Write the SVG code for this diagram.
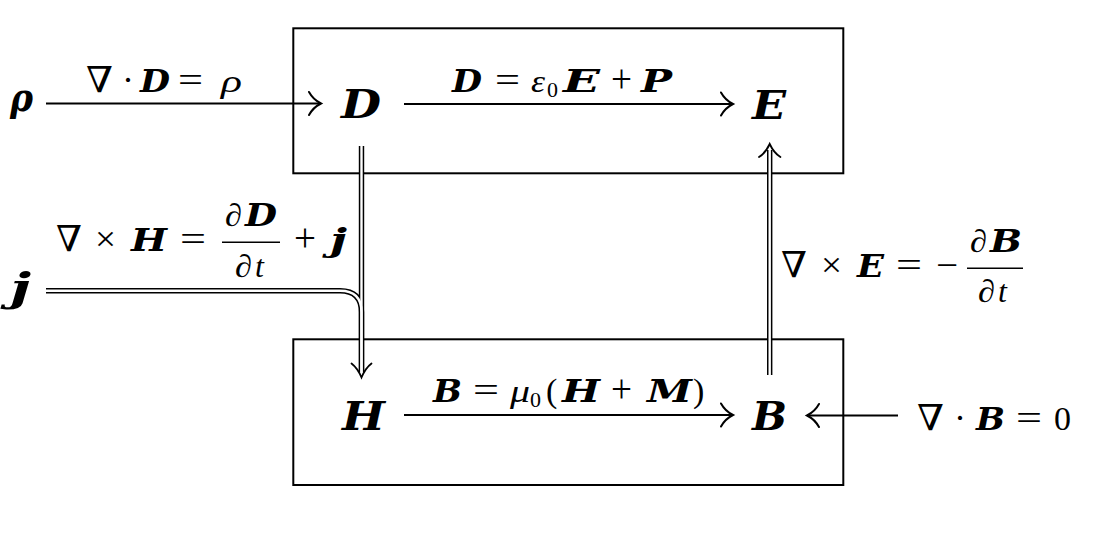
<svg xmlns="http://www.w3.org/2000/svg" width="1100" height="550" viewBox="0 0 1100 550">
<style>
  text { font-family: "Liberation Serif", "DejaVu Serif", serif; font-size: 32px; fill: #000; }
  .i { font-style: italic; }
  .b { font-family: "DejaVu Serif", "Liberation Serif", serif; font-weight: bold; font-style: italic; font-size: 31px; }
  .op { font-size: 36px; }
  .plus { font-size: 40px; }
  .num { font-size: 34px; }
  .node { font-size: 40px; }
  .sub { font-size: 22px; }
  .box { fill: none; stroke: #000; stroke-width: 2; }
  .arrow { fill: none; stroke: #000; stroke-width: 2; }
  .dbl-out { fill: none; stroke: #000; stroke-width: 5.4; }
  .dbl-in { fill: none; stroke: #fff; stroke-width: 2.4; }
  .dhead { fill: none; stroke: #000; stroke-width: 1.8; stroke-linecap: round; }
  .bar { stroke: #000; stroke-width: 1.6; }
</style>
<defs>
  <marker id="to" markerUnits="userSpaceOnUse" markerWidth="20" markerHeight="30" viewBox="-16 -15 20 30" refX="0" refY="0" orient="auto" overflow="visible">
    <path d="M-12,-11.5 C-9,-6 -4,-2 0,0 C-4,2 -9,6 -12,11.5" fill="none" stroke="#000" stroke-width="2" stroke-linecap="round"/>
  </marker>
</defs>
<rect width="1100" height="550" fill="#fff"/>

<g id="box-top"><rect class="box" x="293.3" y="28.3" width="550" height="145"/></g>
<g id="box-bottom"><rect class="box" x="293.3" y="339.3" width="550" height="145.7"/></g>

<g id="connectors">
  <path class="arrow" d="M46 103.5 H321" marker-end="url(#to)"/>
  <path class="arrow" d="M404 104 H733" marker-end="url(#to)"/>
  <path class="arrow" d="M404 415 H733" marker-end="url(#to)"/>
  <path class="arrow" d="M898 415.5 H807" marker-end="url(#to)"/>
  <path class="dbl-out" d="M46 290.7 H340 Q361.5 290.7 361.5 312 V372"/>
  <path class="dbl-out" d="M361.5 146 V372"/>
  <path class="dbl-out" d="M769.7 375 V150"/>
  <path class="dbl-in" d="M46 290.7 H340 Q361.5 290.7 361.5 312 V372"/>
  <path class="dbl-in" d="M361.5 146 V372"/>
  <path class="dbl-in" d="M769.7 375 V150"/>
  <path class="dhead" d="M351.5 363.5 Q357.5 368 361.5 377.5 Q365.5 368 371.5 363.5"/>
  <path class="dhead" d="M759 157 Q765.5 153 769.7 144 Q773.9 153 780.4 157"/>
</g>

<g id="labels">
  <text y="92"><tspan class="op" x="86" textLength="27" lengthAdjust="spacingAndGlyphs">∇</tspan><tspan class="op" x="122">·</tspan><tspan class="b" x="140" textLength="30" lengthAdjust="spacingAndGlyphs">D</tspan><tspan class="op" x="178" textLength="25" lengthAdjust="spacingAndGlyphs">=</tspan><tspan class="i" x="221" textLength="21" lengthAdjust="spacingAndGlyphs">ρ</tspan></text>
  <text y="92"><tspan class="b" x="452" textLength="30" lengthAdjust="spacingAndGlyphs">D</tspan><tspan class="op" x="495" textLength="25" lengthAdjust="spacingAndGlyphs">=</tspan><tspan class="i" x="531" textLength="14" lengthAdjust="spacingAndGlyphs">ε</tspan><tspan class="sub" x="547" dy="5">0</tspan><tspan class="b" x="563" dy="-5" textLength="37" lengthAdjust="spacingAndGlyphs">E</tspan><tspan class="plus" x="611" textLength="21" lengthAdjust="spacingAndGlyphs">+</tspan><tspan class="b" x="641" textLength="31" lengthAdjust="spacingAndGlyphs">P</tspan></text>
  <text y="402"><tspan class="b" x="433" textLength="29" lengthAdjust="spacingAndGlyphs">B</tspan><tspan class="op" x="473" textLength="26" lengthAdjust="spacingAndGlyphs">=</tspan><tspan class="i" x="510" textLength="20" lengthAdjust="spacingAndGlyphs">μ</tspan><tspan class="sub" x="530" dy="5">0</tspan><tspan class="num" x="546" dy="-5">(</tspan><tspan class="b" x="562" textLength="38" lengthAdjust="spacingAndGlyphs">H</tspan><tspan class="plus" x="611" textLength="21" lengthAdjust="spacingAndGlyphs">+</tspan><tspan class="b" x="647" textLength="45" lengthAdjust="spacingAndGlyphs">M</tspan><tspan class="num" x="693">)</tspan></text>
  <text y="430"><tspan class="op" x="917" textLength="27" lengthAdjust="spacingAndGlyphs">∇</tspan><tspan class="op" x="954">·</tspan><tspan class="b" x="976" textLength="29" lengthAdjust="spacingAndGlyphs">B</tspan><tspan class="op" x="1016" textLength="26" lengthAdjust="spacingAndGlyphs">=</tspan><tspan class="num" x="1054">0</tspan></text>
  <text y="277"><tspan class="op" x="781" textLength="26" lengthAdjust="spacingAndGlyphs">∇</tspan><tspan class="op" x="821" textLength="21" lengthAdjust="spacingAndGlyphs">×</tspan><tspan class="b" x="857" textLength="27" lengthAdjust="spacingAndGlyphs">E</tspan><tspan class="op" x="896" textLength="26" lengthAdjust="spacingAndGlyphs">=</tspan><tspan class="op" x="936" textLength="22" lengthAdjust="spacingAndGlyphs">−</tspan></text>
  <text y="252"><tspan class="i" x="970" textLength="17" lengthAdjust="spacingAndGlyphs">∂</tspan><tspan class="b" x="990" textLength="32" lengthAdjust="spacingAndGlyphs">B</tspan></text>
  <line class="bar" x1="967" y1="268.3" x2="1023" y2="268.3"/>
  <text y="302"><tspan class="i" x="978" textLength="17" lengthAdjust="spacingAndGlyphs">∂</tspan><tspan class="i" x="998">t</tspan></text>
  <text y="251"><tspan class="op" x="56" textLength="26" lengthAdjust="spacingAndGlyphs">∇</tspan><tspan class="op" x="95" textLength="21" lengthAdjust="spacingAndGlyphs">×</tspan><tspan class="b" x="131" textLength="36" lengthAdjust="spacingAndGlyphs">H</tspan><tspan class="op" x="180" textLength="26" lengthAdjust="spacingAndGlyphs">=</tspan></text>
  <text y="226"><tspan class="i" x="225" textLength="17" lengthAdjust="spacingAndGlyphs">∂</tspan><tspan class="b" x="245" textLength="32" lengthAdjust="spacingAndGlyphs">D</tspan></text>
  <line class="bar" x1="222" y1="242.3" x2="280" y2="242.3"/>
  <text y="277"><tspan class="i" x="235" textLength="17" lengthAdjust="spacingAndGlyphs">∂</tspan><tspan class="i" x="255">t</tspan></text>
  <text y="251"><tspan class="plus" x="294" textLength="22" lengthAdjust="spacingAndGlyphs">+</tspan><tspan class="b" x="330" textLength="17" lengthAdjust="spacingAndGlyphs">j</tspan></text>
</g>

<g id="node-rho"><text class="b node" x="10" y="111" textLength="23" lengthAdjust="spacingAndGlyphs">ρ</text></g>
<g id="node-j"><text class="b node" x="10" y="301" textLength="21" lengthAdjust="spacingAndGlyphs">j</text></g>
<g id="node-D"><text class="b node" x="341" y="118" textLength="40" lengthAdjust="spacingAndGlyphs">D</text></g>
<g id="node-E"><text class="b node" x="752" y="119" textLength="34" lengthAdjust="spacingAndGlyphs">E</text></g>
<g id="node-H"><text class="b node" x="342" y="430" textLength="43" lengthAdjust="spacingAndGlyphs">H</text></g>
<g id="node-B"><text class="b node" x="752" y="430" textLength="35" lengthAdjust="spacingAndGlyphs">B</text></g>
</svg>
